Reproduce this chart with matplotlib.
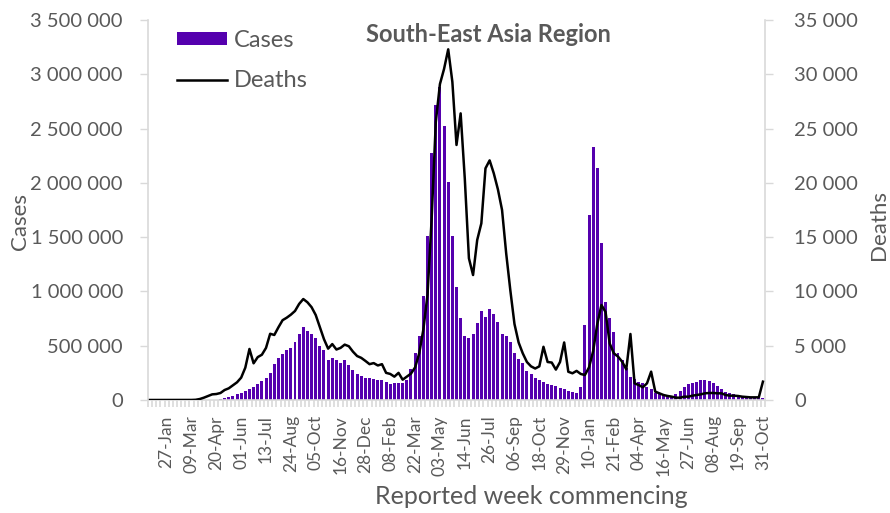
import numpy as np
import matplotlib
matplotlib.use("Agg")
import matplotlib.pyplot as plt
from matplotlib.ticker import FuncFormatter, FixedLocator
from matplotlib.patches import Patch
from matplotlib.lines import Line2D

plt.rcParams['font.family'] = ['Lato', 'DejaVu Sans']

# Weekly series, first week commencing 30-Dec-2019, last 31-Oct-2022
cases_thousands = [
    0, 0, 0, 0, 0, 0, 0, 0, 0, 0, 0.1, 0.3, 0.6,
    1, 2, 3, 4, 9, 18, 28, 40, 52, 68, 80, 98, 123, 147, 175, 206, 252,
    332, 387, 427, 460, 482, 531, 608, 675, 639, 608, 568, 500, 460, 371,
    384, 365, 344, 365, 319, 276, 239, 221, 200, 203, 196, 187, 187, 166,
    144, 153, 157, 157, 184, 285, 430, 589, 955, 1510, 2272, 2717, 2886,
    2524, 2005, 1510, 1044, 758, 589, 568, 608, 706, 820, 768, 835, 792,
    721, 608, 589, 531, 430, 375, 338, 270, 239, 207, 187, 169, 146, 135,
    126, 108, 98, 86, 75, 63, 123, 691, 1704, 2327, 2134, 1446, 906, 755,
    629, 430, 368, 292, 215, 190, 169, 160, 117, 104, 61, 52, 46, 37, 31,
    52, 86, 117, 144, 154, 163, 184, 184, 175, 154, 129, 104, 77, 61, 55,
    46, 31, 25, 21, 21, 21, 18,
]

deaths = [
    0, 0, 0, 0, 0, 0, 0, 0, 0, 0, 5, 20, 90,
    215, 370, 520, 550, 645, 920, 1075, 1350, 1630, 2060, 2980, 4700, 3380,
    3950, 4170, 4800, 6100, 5990, 6700, 7350, 7580, 7860, 8200, 8850, 9300,
    9000, 8550, 7830, 6700, 5600, 4730, 5150, 4650, 4800, 5100, 4950, 4450,
    4050, 3880, 3600, 3300, 3400, 3180, 3300, 2500, 2400, 2150, 2500, 1870,
    2150, 2430, 3000, 4300, 6500, 9700, 16700, 25600, 29100, 30500, 32300,
    29300, 23490, 26400, 20400, 13050, 11510, 14740, 16270, 21340, 22070,
    20880, 19400, 17500, 13500, 10100, 7000, 5300, 4300, 3500, 3100, 2900,
    3100, 4900, 3500, 3450, 2800, 3500, 5300, 2600, 2460, 2680, 2400, 2300,
    3000, 4500, 7000, 8750, 8100, 5200, 4300, 4000, 3530, 2820, 6080, 1535,
    1380, 1170, 1535, 2610, 770, 615, 460, 370, 307, 215, 215, 307, 307,
    400, 460, 520, 615, 645, 645, 615, 615, 460, 400, 400, 370, 307, 276,
    245, 245, 245, 1690,
]

tick_labels = [
    "27-Jan", "09-Mar", "20-Apr", "01-Jun", "13-Jul", "24-Aug", "05-Oct",
    "16-Nov", "28-Dec", "08-Feb", "22-Mar", "03-May", "14-Jun", "26-Jul",
    "06-Sep", "18-Oct", "29-Nov", "10-Jan", "21-Feb", "04-Apr", "16-May",
    "27-Jun", "08-Aug", "19-Sep", "31-Oct",
]
first_label_week = 4
label_step = 6

BAR = '#5500AE'
GREY_TXT = '#595959'
GREY_AX = '#d9d9d9'

cases = np.array(cases_thousands) * 1000
n = len(cases)
x = np.arange(n)

fig = plt.figure(figsize=(8.9, 5.13), dpi=100)
ax = fig.add_axes([148 / 890, 1 - 400 / 513, (765 - 148) / 890, 380 / 513])
ax2 = ax.twinx()

ax.bar(x, cases, width=0.72, color=BAR, zorder=2)
ax2.plot(x, deaths, color='black', lw=1.8, zorder=3)

ax.set_xlim(-0.5, n - 0.5)
ax.set_ylim(0, 3.5e6)
ax2.set_ylim(0, 35000)
ax.set_yticks(np.arange(0, 3.5e6 + 1, 5e5))
ax2.set_yticks(np.arange(0, 35001, 5000))

fmt = FuncFormatter(lambda v, p: f"{int(round(v)):,}".replace(",", " "))
ax.yaxis.set_major_formatter(fmt)
ax2.yaxis.set_major_formatter(fmt)

pos = list(range(first_label_week, n, label_step))
ax.xaxis.set_major_locator(FixedLocator(pos))
ax.set_xticklabels(tick_labels, rotation=90, fontsize=12.5, color=GREY_TXT)
ax.xaxis.set_minor_locator(FixedLocator(np.arange(-0.5, n, 1.0)))
ax.tick_params(axis='x', which='major', length=0, pad=11)
ax.tick_params(axis='x', which='minor', length=5, width=1.2, color=GREY_AX)

ax.tick_params(axis='y', length=6, width=1, color=GREY_AX, labelsize=14.5,
               labelcolor=GREY_TXT, pad=12)
ax2.tick_params(axis='y', length=6, width=1, color=GREY_AX, labelsize=14.5,
                labelcolor=GREY_TXT, pad=15)

for s in ['top', 'right']:
    ax.spines[s].set_visible(False)
for s in ['top', 'left', 'bottom']:
    ax2.spines[s].set_visible(False)
ax.spines['left'].set_color(GREY_AX)
ax.spines['bottom'].set_color(GREY_AX)
ax2.spines['right'].set_color(GREY_AX)
ax.spines['left'].set_linewidth(1.2)
ax.spines['bottom'].set_linewidth(1.2)
ax2.spines['right'].set_linewidth(1.2)

fig.text(20 / 890, 1 - 221 / 513, "Cases", rotation=90, ha='center', va='center',
         fontsize=16, color=GREY_TXT)
fig.text(879 / 890, 1 - 225 / 513, "Deaths", rotation=90, ha='center', va='center',
         fontsize=16, color=GREY_TXT)
fig.text(531 / 890, 1 - 497 / 513, "Reported week commencing", ha='center',
         va='center', fontsize=18, color=GREY_TXT)
fig.text(488 / 890, 1 - 34 / 513, "South-East Asia Region", ha='center',
         va='center', fontsize=17, fontweight='bold', color=GREY_TXT)

handles = [Patch(facecolor=BAR, edgecolor='none', label='Cases'),
           Line2D([0], [0], color='black', lw=1.8, label='Deaths')]
leg = fig.legend(handles=handles, loc='upper left',
                 bbox_to_anchor=(177 / 890, 1 - 30 / 513), frameon=False,
                 fontsize=17, handlelength=2.1, handleheight=0.45,
                 handletextpad=0.3, labelspacing=0.82, borderpad=0,
                 borderaxespad=0)
for t in leg.get_texts():
    t.set_color(GREY_TXT)

fig.savefig("out.png", dpi=100)
